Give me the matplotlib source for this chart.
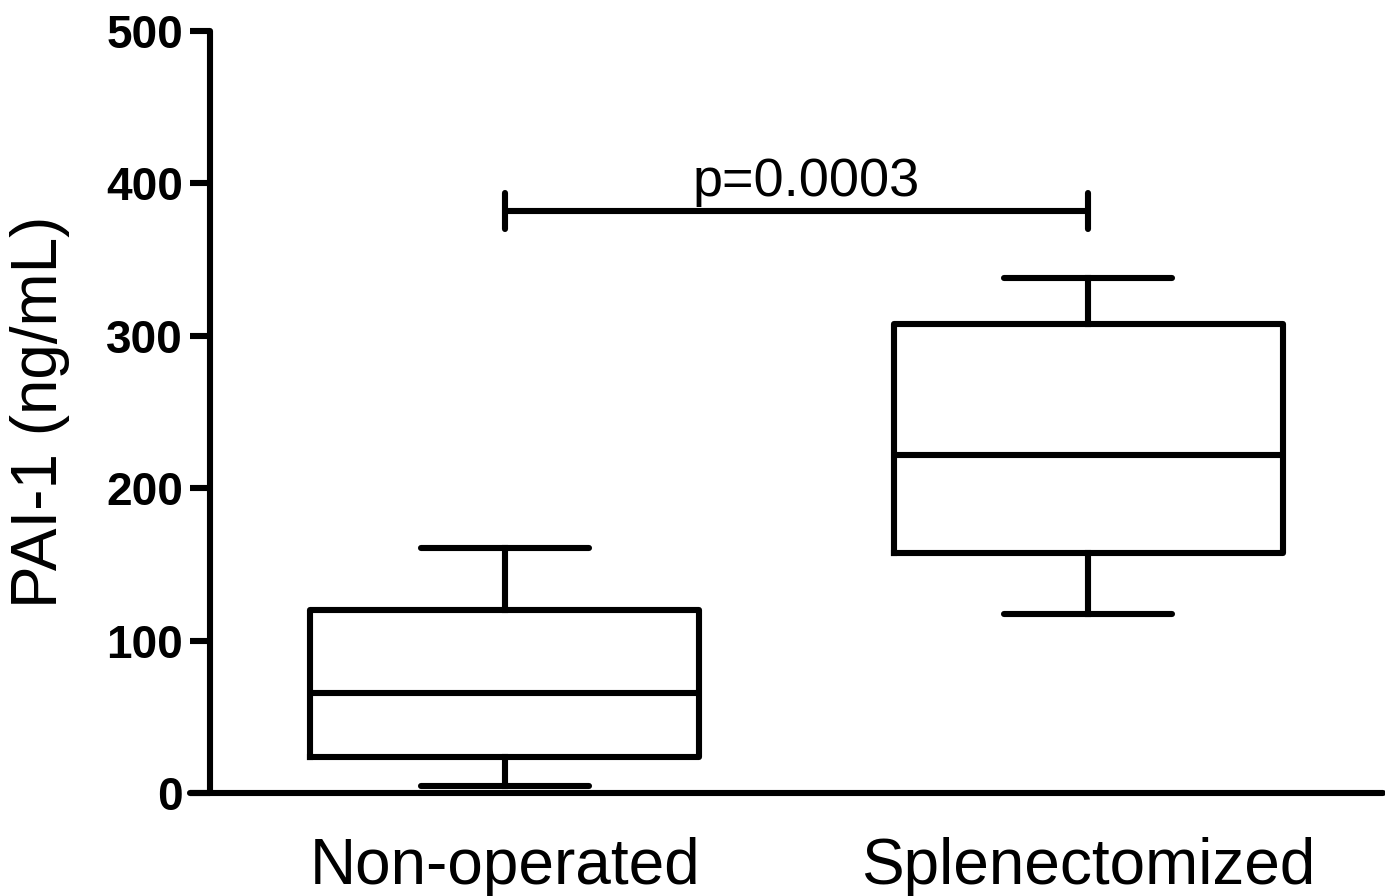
import matplotlib
matplotlib.use("Agg")
import matplotlib.pyplot as plt

plt.rcParams['font.family'] = ['Liberation Sans', 'DejaVu Sans']

categories = ["Non-operated", "Splenectomized"]
whisker_low = [4.6, 117.6]
q1 = [23.6, 157.7]
median = [65.7, 222.0]
q3 = [120.2, 307.5]
whisker_high = [161.0, 338.0]
y_ticks = [0, 100, 200, 300, 400, 500]
p_text = "p=0.0003"
sig_bar_y = 382.0
sig_tick_low = 370.0
sig_tick_high = 394.0

fig = plt.figure(figsize=(13.85, 8.96), dpi=100)
ax = fig.add_axes([210/1385, 103/896, (1383-210)/1385, (793-31)/896])

stats = []
for i, name in enumerate(categories):
    stats.append(dict(label=name, whislo=whisker_low[i], q1=q1[i], med=median[i],
                      q3=q3[i], whishi=whisker_high[i], fliers=[]))

lw = 4.4
positions = [1, 2]
ax.bxp(stats, positions=positions, widths=0.666, showfliers=False,
       boxprops=dict(linewidth=lw, color='black'),
       medianprops=dict(linewidth=lw, color='black'),
       whiskerprops=dict(linewidth=lw, color='black'),
       capprops=dict(linewidth=lw, color='black', solid_capstyle='round'),
       capwidths=0.288)

# significance bar
ax.plot([positions[0], positions[1]], [sig_bar_y, sig_bar_y], color='black', lw=lw, solid_capstyle='butt')
for xp in positions:
    ax.plot([xp, xp], [sig_tick_low, sig_tick_high], color='black', lw=lw, solid_capstyle='round')
ax.text(1.517, 391.5, p_text, ha='center', va='baseline', fontsize=39)

ax.set_xlim(0.495, 2.505)
ax.set_ylim(0, 500)
ax.set_yticks(y_ticks)
ax.set_yticklabels([str(v) for v in y_ticks], fontsize=33, fontweight='bold')
ax.set_xticks(positions)
ax.set_xticklabels(categories, fontsize=46)
ax.tick_params(axis='x', length=0, pad=32)
ax.tick_params(axis='y', length=14.5, width=lw, pad=5)
ax.set_ylabel("PAI-1 (ng/mL)", fontsize=46, labelpad=26)

for s in ['top', 'right']:
    ax.spines[s].set_visible(False)
for s in ['left', 'bottom']:
    ax.spines[s].set_linewidth(lw)
    ax.spines[s].set_capstyle('round')
ax.spines['bottom'].set_bounds(0.495 - 20/584, 2.505)
ax.set_facecolor('white')
fig.patch.set_facecolor('white')
ax.spines['bottom'].set_clip_on(False)

fig.savefig("out.png", dpi=100)
